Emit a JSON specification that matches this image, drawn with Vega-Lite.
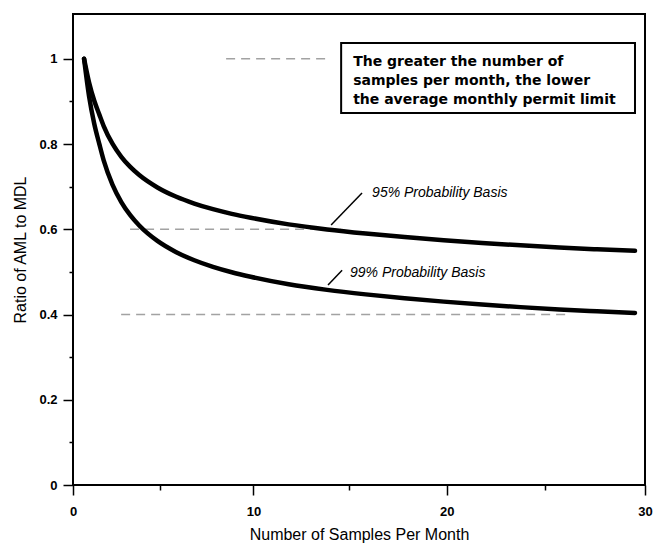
{
  "$schema": "https://vega.github.io/schema/vega-lite/v6.json",
  "width": 572,
  "height": 471,
  "autosize": "none",
  "padding": {"left": 73, "top": 14, "right": 9, "bottom": 63},
  "background": "white",
  "config": {
    "view": {"stroke": "black", "strokeWidth": 2},
    "font": "Liberation Sans",
    "axis": {
      "domain": false,
      "grid": false,
      "tickColor": "black",
      "tickWidth": 1.5,
      "labelColor": "black",
      "titleColor": "black",
      "labelFont": "Liberation Sans",
      "labelFontSize": 13,
      "labelFontWeight": "bold",
      "titleFont": "Liberation Sans",
      "titleFontSize": 16,
      "titleFontWeight": "normal"
    }
  },
  "datasets": {
    "curves": [
      {"series": "95%", "x": 0.7, "y": 1.0},
      {"series": "95%", "x": 1.0, "y": 0.9442},
      {"series": "95%", "x": 1.3, "y": 0.9021},
      {"series": "95%", "x": 1.6, "y": 0.869},
      {"series": "95%", "x": 1.85, "y": 0.8421},
      {"series": "95%", "x": 2.35, "y": 0.8007},
      {"series": "95%", "x": 2.85, "y": 0.77},
      {"series": "95%", "x": 3.35, "y": 0.7463},
      {"series": "95%", "x": 3.85, "y": 0.7272},
      {"series": "95%", "x": 4.85, "y": 0.6981},
      {"series": "95%", "x": 5.85, "y": 0.6767},
      {"series": "95%", "x": 6.85, "y": 0.6603},
      {"series": "95%", "x": 7.85, "y": 0.6471},
      {"series": "95%", "x": 8.85, "y": 0.6362},
      {"series": "95%", "x": 9.85, "y": 0.627},
      {"series": "95%", "x": 11.85, "y": 0.6114},
      {"series": "95%", "x": 13.85, "y": 0.5996},
      {"series": "95%", "x": 15.85, "y": 0.59},
      {"series": "95%", "x": 17.85, "y": 0.5816},
      {"series": "95%", "x": 19.85, "y": 0.5743},
      {"series": "95%", "x": 21.8, "y": 0.5679},
      {"series": "95%", "x": 23.75, "y": 0.5623},
      {"series": "95%", "x": 25.7, "y": 0.5572},
      {"series": "95%", "x": 27.6, "y": 0.553},
      {"series": "95%", "x": 29.5, "y": 0.5493},
      {"series": "99%", "x": 0.7, "y": 1.0},
      {"series": "99%", "x": 1.0, "y": 0.9117},
      {"series": "99%", "x": 1.3, "y": 0.8481},
      {"series": "99%", "x": 1.6, "y": 0.7997},
      {"series": "99%", "x": 1.85, "y": 0.7615},
      {"series": "99%", "x": 2.35, "y": 0.7046},
      {"series": "99%", "x": 2.85, "y": 0.6639},
      {"series": "99%", "x": 3.35, "y": 0.6331},
      {"series": "99%", "x": 3.85, "y": 0.6088},
      {"series": "99%", "x": 4.85, "y": 0.5726},
      {"series": "99%", "x": 5.85, "y": 0.5468},
      {"series": "99%", "x": 6.85, "y": 0.5272},
      {"series": "99%", "x": 7.85, "y": 0.5117},
      {"series": "99%", "x": 8.85, "y": 0.4991},
      {"series": "99%", "x": 9.85, "y": 0.4886},
      {"series": "99%", "x": 11.85, "y": 0.4709},
      {"series": "99%", "x": 13.85, "y": 0.4578},
      {"series": "99%", "x": 15.85, "y": 0.4472},
      {"series": "99%", "x": 17.85, "y": 0.438},
      {"series": "99%", "x": 19.85, "y": 0.4302},
      {"series": "99%", "x": 21.8, "y": 0.4233},
      {"series": "99%", "x": 23.75, "y": 0.4173},
      {"series": "99%", "x": 25.7, "y": 0.4119},
      {"series": "99%", "x": 27.6, "y": 0.4075},
      {"series": "99%", "x": 29.5, "y": 0.4035}
    ],
    "scan": [
      {"x": 2.84, "x2": 26.19, "y": 0.4, "y2": 0.4},
      {"x": 3.34, "x2": 14.55, "y": 0.6, "y2": 0.6},
      {"x": 8.55, "x2": 14.03, "y": 1.0, "y2": 1.0}
    ],
    "box": [
      {"x": 14.58, "x2": 29.5, "y": 1.037, "y2": 0.873}
    ],
    "note": [
      {"x": 15.2, "y": 0.992, "text": "The greater the number of"},
      {"x": 15.2, "y": 0.948, "text": "samples per month, the lower"},
      {"x": 15.2, "y": 0.903, "text": "the average monthly permit limit"}
    ],
    "leaders": [
      {"x": 14.06, "y": 0.61, "x2": 15.66, "y2": 0.685},
      {"x": 13.9, "y": 0.469, "x2": 14.63, "y2": 0.504}
    ],
    "labels": [
      {"x": 16.18, "y": 0.685, "text": "95% Probability Basis"},
      {"x": 15.04, "y": 0.497, "text": "99% Probability Basis"}
    ]
  },
  "encoding": {
    "x": {
      "field": "x",
      "type": "quantitative",
      "scale": {"type": "pow", "exponent": 1.05, "domain": [0, 30], "nice": false, "zero": false},
      "axis": {
        "title": "Number of Samples Per Month",
        "values": [0, 5, 10, 15, 20, 25, 30],
        "labelExpr": "datum.value % 10 == 0 ? datum.label : ''",
        "tickSize": {"condition": {"test": "datum.value % 10 == 0", "value": 10}, "value": 5},
        "labelPadding": 10,
        "titlePadding": 8,
        "labelFlush": false
      }
    },
    "y": {
      "field": "y",
      "type": "quantitative",
      "scale": {"domain": [0, 1.105], "nice": false},
      "axis": {
        "title": "Ratio of AML to MDL",
        "values": [0, 0.1, 0.2, 0.3, 0.4, 0.5, 0.6, 0.7, 0.8, 0.9, 1],
        "format": "~g",
        "labelExpr": "round(datum.value * 10) % 2 == 0 ? datum.label : ''",
        "tickSize": {"condition": {"test": "round(datum.value * 10) % 2 == 0", "value": 10}, "value": 4},
        "labelPadding": 6,
        "titlePadding": 10
      }
    }
  },
  "layer": [
    {
      "data": {"name": "scan"},
      "mark": {"type": "rule", "color": "#555", "strokeDash": [9, 6], "strokeWidth": 1.3, "opacity": 0.55},
      "encoding": {"x2": {"field": "x2"}, "y2": {"field": "y2"}}
    },
    {
      "data": {"name": "curves"},
      "mark": {"type": "line", "color": "black", "strokeWidth": 4.5, "interpolate": "monotone", "strokeCap": "round", "strokeJoin": "round"},
      "encoding": {"detail": {"field": "series", "type": "nominal"}}
    },
    {
      "data": {"name": "box"},
      "mark": {"type": "rect", "fill": "white", "stroke": "black", "strokeWidth": 2},
      "encoding": {"x2": {"field": "x2"}, "y2": {"field": "y2"}}
    },
    {
      "data": {"name": "note"},
      "mark": {"type": "text", "font": "DejaVu Sans", "fontWeight": "bold", "fontSize": 14, "align": "left", "baseline": "middle", "color": "black"},
      "encoding": {"text": {"field": "text"}}
    },
    {
      "data": {"name": "leaders"},
      "mark": {"type": "rule", "color": "black", "strokeWidth": 1.5},
      "encoding": {"x2": {"field": "x2"}, "y2": {"field": "y2"}}
    },
    {
      "data": {"name": "labels"},
      "mark": {"type": "text", "font": "Liberation Sans", "fontStyle": "italic", "fontSize": 14, "align": "left", "baseline": "middle", "color": "black"},
      "encoding": {"text": {"field": "text"}}
    }
  ]
}
